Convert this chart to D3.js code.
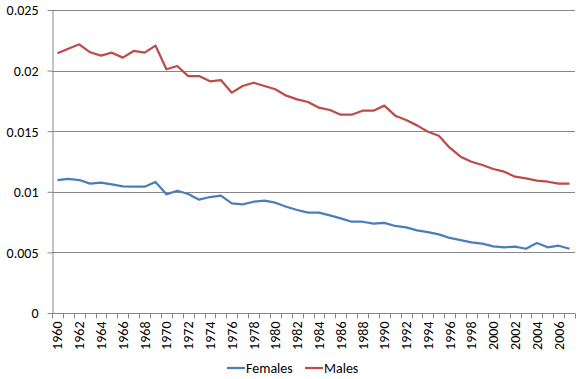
<!DOCTYPE html>
<html><head><meta charset="utf-8">
<script src="https://cdn.jsdelivr.net/npm/d3@7"></script>
<style>body{margin:0;background:#fff}svg{display:block}text{font-family:Carlito,"Liberation Sans","Open Sans",sans-serif;fill:#000}</style>
</head><body><svg id="c" width="583" height="379"></svg>
<script>
const years = d3.range(1960, 2008);
const females = [0.01097,0.01106,0.01097,0.01067,0.01075,0.01062,0.01045,0.01042,0.01042,0.01081,
0.00979,0.01009,0.00982,0.00935,0.00957,0.00968,0.00905,0.00897,0.00918,0.00927,
0.00910,0.00877,0.00850,0.00828,0.00828,0.00806,0.00781,0.00753,0.00753,0.00737,
0.00743,0.00718,0.00707,0.00682,0.00668,0.00649,0.00619,0.00602,0.00583,0.00572,
0.00550,0.00542,0.00547,0.00530,0.00578,0.00542,0.00555,0.00530];
const males = [0.02143,0.02181,0.02217,0.02151,0.02123,0.02148,0.02107,0.02162,0.02148,0.02206,
0.02011,0.02038,0.01955,0.01955,0.01912,0.01922,0.01818,0.01873,0.01900,0.01873,
0.01846,0.01793,0.01763,0.01741,0.01694,0.01675,0.01636,0.01636,0.01669,0.01669,
0.01711,0.01628,0.01592,0.01548,0.01496,0.01463,0.01364,0.01290,0.01248,0.01221,
0.01188,0.01166,0.01125,0.01111,0.01092,0.01083,0.01067,0.01067];
const yTicks = [0,0.005,0.01,0.015,0.02,0.025];
const yTickLabels = ["0","0.005","0.01","0.015","0.02","0.025"];
const seriesNames = ["Females","Males"];
const colors = ["#4a7ebb","#be4b48"];

const svg = d3.select("#c");
const L=52, R=575, T=10, B=313;
const x = d3.scaleBand().domain(years).range([L,R]);
const y = d3.scaleLinear().domain([0,0.025]).range([B,T]);

svg.append("g").selectAll("line").data(yTicks.slice(1)).join("line")
  .attr("x1",L).attr("x2",R).attr("y1",d=>Math.round(y(d))+0.5).attr("y2",d=>Math.round(y(d))+0.5)
  .attr("stroke","#878787").attr("stroke-width",1);

const ya = svg.append("g").attr("transform",`translate(${L+0.5},0)`)
  .call(d3.axisLeft(y).tickValues(yTicks).tickFormat((d,i)=>yTickLabels[i]).tickSize(5).tickPadding(9).tickSizeOuter(0));
ya.select(".domain").attr("stroke","#878787");
ya.selectAll(".tick line").attr("stroke","#878787");
ya.selectAll(".tick text").style("font-size","14px").attr("dy","0.35em");

const xa = svg.append("g").attr("transform",`translate(0,${B+0.5})`);
xa.append("line").attr("x1",L).attr("x2",R).attr("stroke","#878787");
const bounds = years.map(d=>x(d)).concat([R]);
xa.selectAll(".tk").data(bounds).join("line").attr("class","tk")
  .attr("x1",d=>Math.round(d)+0.5).attr("x2",d=>Math.round(d)+0.5).attr("y1",0).attr("y2",5).attr("stroke","#878787");
xa.selectAll("text").data(years.filter((d,i)=>i%2===0)).join("text")
  .attr("transform",d=>`translate(${x(d)+x.bandwidth()/2+5},8) rotate(-90)`)
  .attr("text-anchor","end").style("font-size","14px").text(d=>d);

const line = d3.line().x((d,i)=>x(years[i])+x.bandwidth()/2).y(d=>y(d));
[females,males].forEach((s,k)=>{
  svg.append("path").datum(s).attr("d",line).attr("fill","none")
    .attr("stroke",colors[k]).attr("stroke-width",2.25).attr("stroke-linejoin","round");
});

const lg = svg.append("g");
const lx = [227,305];
seriesNames.forEach((n,k)=>{
  lg.append("line").attr("x1",lx[k]).attr("x2",lx[k]+18).attr("y1",368).attr("y2",368)
    .attr("stroke",colors[k]).attr("stroke-width",2.25);
  lg.append("text").attr("x",lx[k]+19).attr("y",373).style("font-size","14px").text(n);
});
</script></body></html>
